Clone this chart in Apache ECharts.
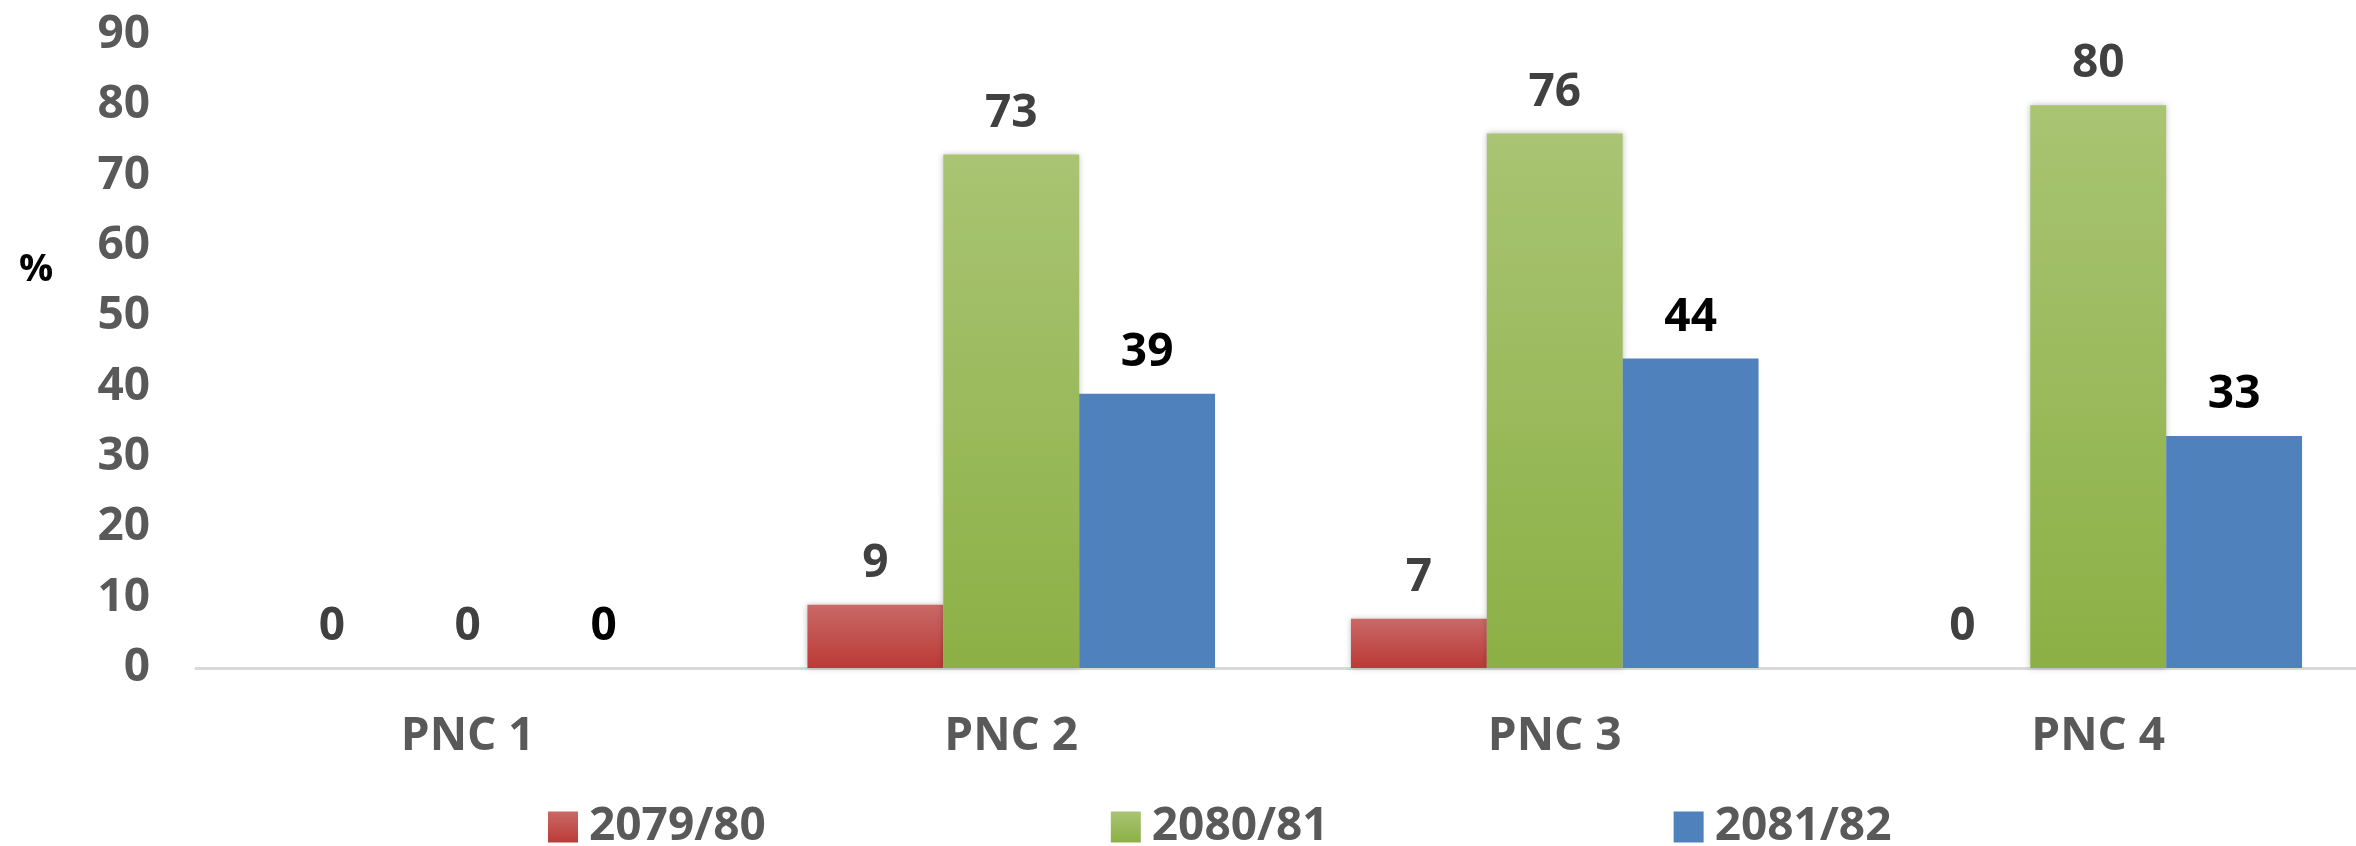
<!DOCTYPE html>
<html>
<head>
<meta charset="utf-8">
<script src="https://cdn.jsdelivr.net/npm/echarts@6/dist/echarts.min.js"></script>
<style>
  html, body { margin: 0; padding: 0; background: #fff; }
  #chart { width: 2356px; height: 846px; }
</style>
</head>
<body>
<div id="chart"></div>
<script>
// data
var categories = ['PNC 1', 'PNC 2', 'PNC 3', 'PNC 4'];
var seriesNames = ['2079/80', '2080/81', '2081/82'];
var values7980 = [0, 9, 7, 0];
var values8081 = [0, 73, 76, 80];
var values8182 = [0, 39, 44, 33];
var yTicks = [0, 10, 20, 30, 40, 50, 60, 70, 80, 90];

var font = '"Open Sans", Lato, "Noto Sans", sans-serif';

function grad(top, bottom) {
  return new echarts.graphic.LinearGradient(0, 0, 0, 1, [
    { offset: 0, color: top },
    { offset: 1, color: bottom }
  ]);
}

function makeSeries(name, data, color, labelColor, shadow) {
  return {
    name: name,
    type: 'bar',
    data: data,
    barGap: '0%',
    barCategoryGap: '25%',
    itemStyle: {
      color: color,
      shadowBlur: shadow ? 6 : 0,
      shadowColor: 'rgba(0,0,0,0.25)'
    },
    label: {
      show: true,
      position: 'top',
      distance: 18,
      color: labelColor,
      fontFamily: font,
      fontWeight: 'bold',
      fontSize: 46
    }
  };
}

var myChart = echarts.init(document.getElementById('chart'));
var option = {
  animation: false,
  backgroundColor: '#ffffff',
  title: {
    text: '%',
    left: 14,
    top: 246,
    textStyle: { fontFamily: font, fontWeight: 'bold', fontSize: 38, color: '#000000' }
  },
  legend: {
    data: seriesNames,
    left: 543,
    top: 799,
    icon: 'rect',
    itemWidth: 30,
    itemHeight: 31,
    itemGap: 345,
    textStyle: { fontFamily: font, fontWeight: 'bold', fontSize: 46, color: '#595959', padding: [0, 0, 0, 6] }
  },
  grid: {
    left: 196,
    top: 35,
    width: 2174,
    bottom: 178,
    containLabel: false,
    outerBoundsMode: 'none'
  },
  xAxis: {
    type: 'category',
    data: categories,
    axisLine: { lineStyle: { color: '#D9D9D9', width: 3 } },
    axisTick: { show: false },
    axisLabel: {
      margin: 46,
      color: '#595959',
      fontFamily: font,
      fontWeight: 'bold',
      fontSize: 46
    }
  },
  yAxis: {
    type: 'value',
    min: yTicks[0],
    max: yTicks[yTicks.length - 1],
    interval: 10,
    splitLine: { show: false },
    axisLine: { show: false },
    axisTick: { show: false },
    axisLabel: {
      margin: 46,
      color: '#595959',
      fontFamily: font,
      fontWeight: 'bold',
      fontSize: 46
    }
  },
  series: [
    makeSeries(seriesNames[0], values7980, grad('#C96966', '#BB3A37'), '#404040', true),
    makeSeries(seriesNames[1], values8081, grad('#A9C473', '#8CB045'), '#404040', true),
    makeSeries(seriesNames[2], values8182, '#4F81BD', '#000000', false)
  ]
};
myChart.setOption(option, true);
</script>
</body>
</html>
